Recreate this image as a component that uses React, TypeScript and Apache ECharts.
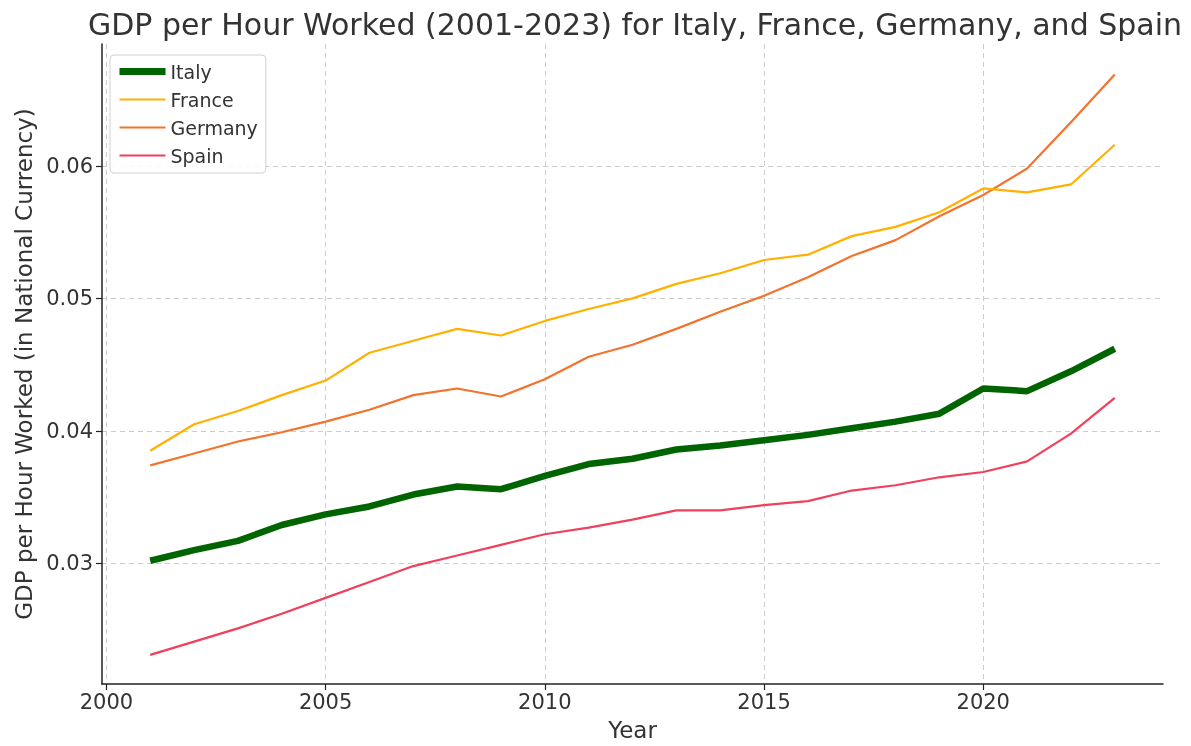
import React, { useEffect, useRef } from "react";
import * as echarts from "echarts";

const years = [2001, 2002, 2003, 2004, 2005, 2006, 2007, 2008, 2009, 2010, 2011, 2012, 2013, 2014, 2015, 2016, 2017, 2018, 2019, 2020, 2021, 2022, 2023];
const italy = [0.0302, 0.0310, 0.0317, 0.0329, 0.0337, 0.0343, 0.0352, 0.0358, 0.0356, 0.0366, 0.0375, 0.0379, 0.0386, 0.0389, 0.0393, 0.0397, 0.0402, 0.0407, 0.0413, 0.0432, 0.0430, 0.0445, 0.0462];
const france = [0.0385, 0.0405, 0.0415, 0.0427, 0.0438, 0.0459, 0.0468, 0.0477, 0.0472, 0.0483, 0.0492, 0.0500, 0.0511, 0.0519, 0.0529, 0.0533, 0.0547, 0.0554, 0.0565, 0.0583, 0.0580, 0.0586, 0.0616];
const germany = [0.0374, 0.0383, 0.0392, 0.0399, 0.0407, 0.0416, 0.0427, 0.0432, 0.0426, 0.0439, 0.0456, 0.0465, 0.0477, 0.0490, 0.0502, 0.0516, 0.0532, 0.0544, 0.0562, 0.0578, 0.0598, 0.0633, 0.0669];
const spain = [0.0231, 0.0241, 0.0251, 0.0262, 0.0274, 0.0286, 0.0298, 0.0306, 0.0314, 0.0322, 0.0327, 0.0333, 0.0340, 0.0340, 0.0344, 0.0347, 0.0355, 0.0359, 0.0365, 0.0369, 0.0377, 0.0398, 0.0425];
const xTicks = [2000, 2005, 2010, 2015, 2020];
const yTicks = [0.03, 0.04, 0.05, 0.06];

const FONT = "DejaVu Sans";

export default function App() {
  const ref = useRef<HTMLDivElement>(null);
  useEffect(() => {
    const chart = echarts.init(ref.current!, null, { renderer: "svg" });
    const mk = (name: string, vals: number[], color: string, width: number, z: number) => ({
      name,
      type: "line",
      data: years.map((y, i) => [y, vals[i]]),
      symbol: "none",
      z,
      lineStyle: { color, width },
      itemStyle: { color },
    });
    chart.setOption({
      animation: false,
      textStyle: { fontFamily: FONT },
      title: {
        text: "GDP per Hour Worked (2001-2023) for Italy, France, Germany, and Spain",
        left: 630,
        textAlign: "center",
        top: 4,
        textStyle: { fontFamily: FONT, fontSize: 30, fontWeight: "normal", color: "#333" },
      },
      legend: {
        orient: "vertical",
        left: 110,
        top: 55,
        padding: [7, 8, 8, 6],
        itemGap: 9,
        itemWidth: 46,
        itemHeight: 19,
        backgroundColor: "rgba(255,255,255,0.85)",
        borderColor: "#d0d0d0",
        borderWidth: 1,
        borderRadius: 4,
        itemStyle: { opacity: 0 },
        textStyle: { fontFamily: FONT, fontSize: 19, color: "#333" },
        data: [
          { name: "Italy", lineStyle: { width: 7 } },
          { name: "France", lineStyle: { width: 2.2 } },
          { name: "Germany", lineStyle: { width: 2.2 } },
          { name: "Spain", lineStyle: { width: 2.2 } },
        ],
      },
      grid: { left: 102, right: 28, top: 44, bottom: 59, containLabel: false },
      xAxis: {
        type: "value",
        min: 1999.9,
        max: 2024.1,
        name: "Year",
        nameLocation: "middle",
        nameGap: 34,
        nameTextStyle: { fontFamily: FONT, fontSize: 23, color: "#333" },
        axisLine: { show: true, lineStyle: { color: "#222", width: 1.5 } },
        axisTick: { show: true, inside: false, length: 6, customValues: xTicks, lineStyle: { color: "#222", width: 1.2 } },
        axisLabel: { customValues: xTicks, fontFamily: FONT, fontSize: 21, color: "#333", margin: 7, formatter: (v: number) => String(v) },
        splitLine: { show: true, lineStyle: { color: "#cccccc", type: [5, 4], width: 1 } },
      },
      yAxis: {
        type: "value",
        min: 0.0209,
        max: 0.0692,
        name: "GDP per Hour Worked (in National Currency)",
        nameLocation: "middle",
        nameGap: 65,
        nameTextStyle: { fontFamily: FONT, fontSize: 23, color: "#333" },
        axisLine: { show: true, lineStyle: { color: "#222", width: 1.5 } },
        axisTick: { show: true, inside: false, length: 6, customValues: yTicks, lineStyle: { color: "#222", width: 1.2 } },
        axisLabel: { customValues: yTicks, fontFamily: FONT, fontSize: 21, color: "#333", margin: 9, formatter: (v: number) => v.toFixed(2) },
        splitLine: { show: true, lineStyle: { color: "#cccccc", type: [5, 4], width: 1 } },
      },
      series: [
        mk("Italy", italy, "#006400", 6.5, 5),
        mk("France", france, "#FFB000", 2.2, 4),
        mk("Germany", germany, "#F3722C", 2.2, 3),
        mk("Spain", spain, "#F0405C", 2.2, 2),
      ],
    });
    return () => chart.dispose();
  }, []);
  return <div ref={ref} style={{ position: "fixed", left: 0, top: 0, width: 1191, height: 746 }} />;
}
